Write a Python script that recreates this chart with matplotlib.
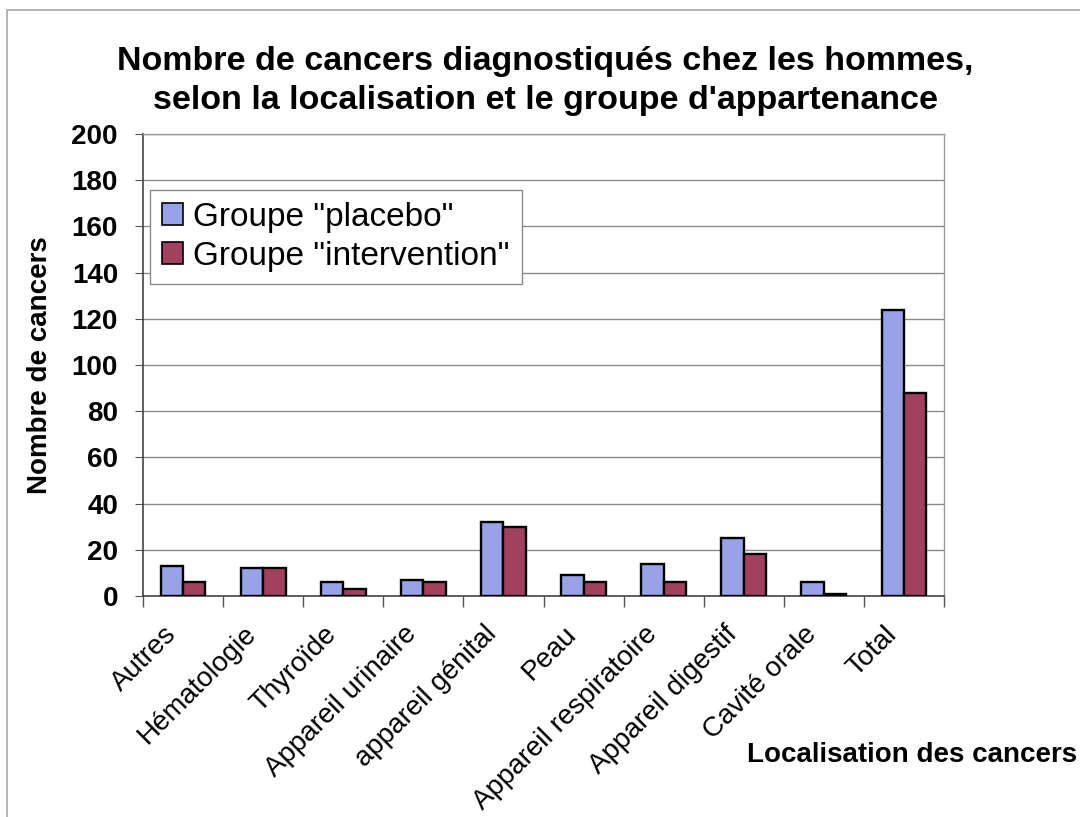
import numpy as np
import matplotlib.pyplot as plt
import matplotlib.transforms as mtransforms
from matplotlib.patches import Rectangle

plt.rcParams['font.family'] = ['Liberation Sans', 'DejaVu Sans']

# ------ Données
categories = ["Autres", "Hématologie", "Thyroïde", "Appareil urinaire", "appareil génital",
              "Peau", "Appareil respiratoire", "Appareil digestif", "Cavité orale", "Total"]
placebo = [13, 12, 6, 7, 32, 9, 14, 25, 6, 124]
intervention = [6, 12, 3, 6, 30, 6, 6, 18, 1, 88]

col_placebo = '#98a2e6'
col_interv = '#a2405f'

fig = plt.figure(figsize=(10.8, 8.17), dpi=100)
# cadre gris autour du graphique
fig.patches.append(Rectangle((0.0065, -0.01), 1.02, 0.998, transform=fig.transFigure,
                             fill=False, edgecolor='#a8a8a8', linewidth=1.2))

ax = fig.add_axes([143 / 1080, 1 - 596 / 817, 801 / 1080, 462 / 817])

x = np.arange(len(categories))
w = 0.28
ax.bar(x - w / 2, placebo, w, color=col_placebo, edgecolor='black', linewidth=1.7,
       label='Groupe "placebo"', zorder=3)
ax.bar(x + w / 2, intervention, w, color=col_interv, edgecolor='black', linewidth=1.7,
       label='Groupe "intervention"', zorder=3)

ax.set_xlim(-0.5, len(categories) - 0.5)
ax.set_ylim(0, 200)
ax.set_yticks(np.arange(0, 201, 20))
ax.yaxis.grid(True, color='#8a8a8a', linewidth=1.0, zorder=0)

# graduations x aux limites des catégories
ax.set_xticks(np.arange(len(categories) + 1) - 0.5, minor=False)
ax.set_xticklabels([])
ax.tick_params(axis='x', length=8, color='#555555', width=1)
ax.set_xticks(x, minor=True)
ax.set_xticklabels(categories, minor=True, rotation=45, ha='right', va='top',
                   rotation_mode='anchor', fontsize=20)
ax.tick_params(axis='x', which='minor', length=0, pad=18)
shift = mtransforms.ScaledTranslation(-0.20, 0, fig.dpi_scale_trans)
for lab in ax.get_xticklabels(minor=True):
    lab.set_transform(lab.get_transform() + shift)
ax.tick_params(axis='y', length=6, color='#555555', labelsize=20, pad=12)
for lab in ax.get_yticklabels():
    lab.set_fontweight('bold')

for s in ['top', 'right']:
    ax.spines[s].set_color('#9a9a9a')
    ax.spines[s].set_linewidth(1.0)
ax.spines['left'].set_color('#444444')
ax.spines['bottom'].set_color('#444444')
ax.spines['left'].set_linewidth(1.2)
ax.spines['bottom'].set_linewidth(1.2)

ax.set_ylabel("Nombre de cancers", fontsize=20, fontweight='bold')
ax.yaxis.set_label_coords(-90 / 801, 0.5)
fig.text(0.997, 1 - 755 / 817, "Localisation des cancers", fontsize=20, fontweight='bold',
         ha='right', va='center')

fig.suptitle("Nombre de cancers diagnostiqués chez les hommes,\n"
             "selon la localisation et le groupe d'appartenance",
             fontsize=24.5, fontweight='bold', x=0.505, y=0.944, linespacing=1.33)

leg = ax.legend(loc='upper left', bbox_to_anchor=(7 / 801, 1 - 56 / 462), fontsize=24,
                frameon=True, fancybox=False, edgecolor='#8a8a8a', framealpha=1,
                handlelength=0.65, handleheight=0.65, handletextpad=0.3,
                borderpad=0.35, labelspacing=0.25, borderaxespad=0)
leg.get_frame().set_linewidth(1.0)
for h in leg.legend_handles:
    h.set_linewidth(1.2)

fig.savefig("out.png", dpi=100, facecolor='white')
